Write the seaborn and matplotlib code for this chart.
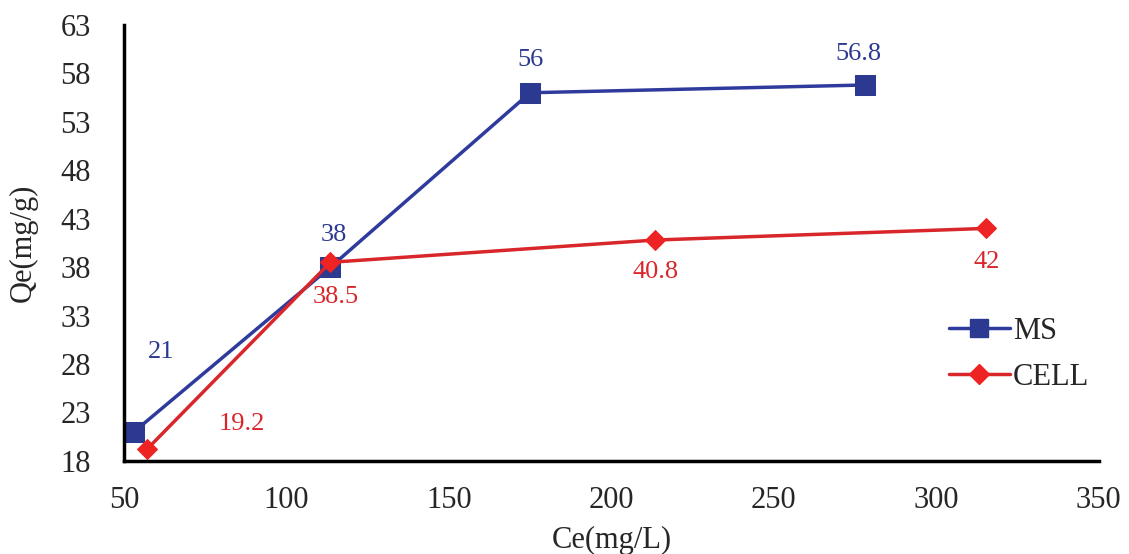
import matplotlib.pyplot as plt
import seaborn as sns
import pandas as pd

# Data
ms_ce = [53, 113.5, 175, 278]
ms_qe = [21, 38, 56, 56.8]
cell_ce = [57, 113.5, 213.5, 315.5]
cell_qe = [19.2, 38.5, 40.8, 42]
series_names = ['MS', 'CELL']
x_ticks = [50, 100, 150, 200, 250, 300, 350]
y_ticks = [18, 23, 28, 33, 38, 43, 48, 53, 58, 63]

df = pd.DataFrame({
    'Ce': ms_ce + cell_ce,
    'Qe': ms_qe + cell_qe,
    'Series': [series_names[0]] * len(ms_ce) + [series_names[1]] * len(cell_ce),
})

sns.set_theme(style="white")
plt.rcParams['font.family'] = ['Liberation Serif', 'DejaVu Serif']

line_colors = {'MS': '#2f3b9c', 'CELL': '#d9262b'}
marker_colors = {'MS': '#2b3990', 'CELL': '#ee2324'}

fig = plt.figure(figsize=(11.29, 5.54), dpi=100)
ax = fig.add_axes([0.110, 0.168, 0.863, 0.787])

sns.lineplot(data=df, x='Ce', y='Qe', hue='Series', style='Series',
             markers={'MS': 's', 'CELL': 'D'}, dashes=False,
             palette=line_colors, linewidth=2.5, ax=ax, legend=False)

# recolour markers and sizes
for line, name in zip(ax.get_lines(), series_names):
    line.set_markerfacecolor(marker_colors[name])
    line.set_markeredgecolor(marker_colors[name])
    line.set_markersize(14 if name == 'MS' else 10)

# data labels
ms_offsets = [(27, 80), (3, 32), (0, 33), (-6, 31)]
cell_offsets = [(95, 25), (5, -35), (0, -32), (0, -34)]
for x, y, off in zip(ms_ce, ms_qe, ms_offsets):
    ax.annotate(f"{y:g}", (x, y), xytext=off, textcoords='offset pixels',
                ha='center', va='center', fontsize=19, color='#2b3990')
for x, y, off in zip(cell_ce, cell_qe, cell_offsets):
    ax.annotate(f"{y:g}", (x, y), xytext=off, textcoords='offset pixels',
                ha='center', va='center', fontsize=19, color='#d9262b')

ax.set_xlim(50, 350)
ax.set_ylim(18, 63)
ax.set_xticks(x_ticks)
ax.set_yticks(y_ticks)
ax.tick_params(axis='y', labelsize=22, length=0, pad=24)
ax.tick_params(axis='x', labelsize=22, length=0, pad=18)
ax.set_xlabel('Ce(mg/L)', fontsize=22, labelpad=8)
ax.set_ylabel('Qe(mg/g)', fontsize=22, labelpad=16)

sns.despine(ax=ax)
for side in ['left', 'bottom']:
    ax.spines[side].set_color('black')
    ax.spines[side].set_linewidth(2.5)

# legend
handles = []
for name in series_names:
    h, = ax.plot([], [], color=line_colors[name], linewidth=2.5,
                 marker='s' if name == 'MS' else 'D',
                 markersize=13 if name == 'MS' else 10,
                 markerfacecolor=marker_colors[name],
                 markeredgecolor=marker_colors[name])
    handles.append(h)
ax.legend(handles, series_names, loc='center left', bbox_to_anchor=(0.818, 0.245),
          frameon=False, fontsize=22, handlelength=2.0, handletextpad=0.1,
          labelspacing=0.55)

plt.savefig('out.png', dpi=100)
plt.close()
